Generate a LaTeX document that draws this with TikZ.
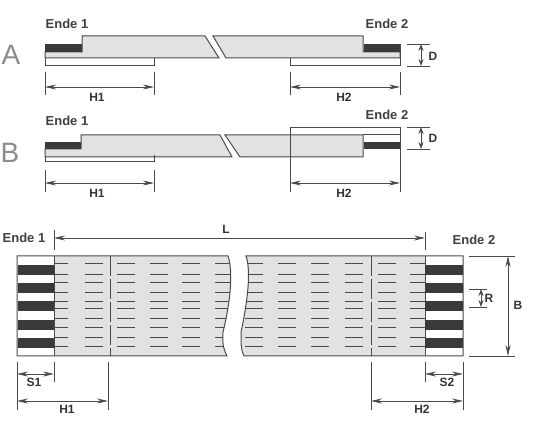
\documentclass[tikz,border=0pt]{standalone}
\usepackage{fontspec}
\setmainfont{Liberation Sans}
\usetikzlibrary{arrows.meta}
\definecolor{lineGrey}{HTML}{4A4A4A}
\definecolor{bodyGrey}{HTML}{E2E2E2}
\definecolor{contactGrey}{HTML}{3A3A3A}
\tikzstyle{outline}=[draw=lineGrey,line width=1pt]
\tikzstyle{body}=[outline,fill=bodyGrey]
\tikzstyle{contact}=[fill=contactGrey]
\tikzstyle{helper}=[draw=lineGrey,line width=0.7pt]
\tikzstyle{dimLine}=[draw=lineGrey,line width=0.8pt,{Stealth[length=11pt,width=5pt]}-{Stealth[length=11pt,width=5pt]}]
\tikzstyle{shortDim}=[draw=lineGrey,line width=0.8pt,{Stealth[length=7pt,width=5pt]}-{Stealth[length=7pt,width=5pt]}]
\tikzstyle{trace}=[draw=lineGrey,line width=1pt]
\tikzstyle{centerLine}=[draw=lineGrey,line width=0.8pt,dash pattern=on 20pt off 3pt]
\tikzstyle{endLabel}=[inner sep=0pt,text=black!75,font=\bfseries\fontsize{13}{15}\selectfont]
\tikzstyle{dimLabel}=[inner sep=0pt,text=black!80,font=\bfseries\fontsize{12}{14}\selectfont]
\tikzstyle{bigLabel}=[inner sep=0pt,text=black!45,font=\fontsize{28}{30}\selectfont]

\begin{document}
\begin{tikzpicture}[x=1pt,y=-1pt]
    \useasboundingbox (0,0) rectangle (533,427);

    % variant A
    \node[bigLabel] (labelA) at (11,55) {A};
    \node[endLabel] (endA1) at (67,24) {Ende 1};
    \node[endLabel] (endA2) at (387,24) {Ende 2};
    \draw[body] (45,52) -- (82,52) -- (82,36) -- (205,36) -- (219,58) -- (45,58) -- cycle;
    \draw[body] (213,36) -- (363,36) -- (363,52) -- (400,52) -- (400,58) -- (226,58) -- cycle;
    \fill[contact] (45,44) rectangle (82,52);
    \fill[contact] (364,44) rectangle (400,52);
    \draw[outline] (45,58) -- (45,66) -- (154,66) -- (154,58);
    \draw[outline] (290,58) -- (290,66) -- (400,66) -- (400,44);

    \coordinate (a1l) at (45,87);
    \coordinate (a1r) at (154,87);
    \coordinate (a2l) at (290,87);
    \coordinate (a2r) at (400,87);
    \draw[helper] (45,72) -- (45,95);
    \draw[helper] (154,72) -- (154,95);
    \draw[helper] (290,72) -- (290,95);
    \draw[helper] (400,72) -- (400,95);
    \draw[dimLine] (a1l) -- (a1r);
    \draw[dimLine] (a2l) -- (a2r);
    \node[dimLabel] (h1A) at (97,97) {H1};
    \node[dimLabel] (h2A) at (344,97) {H2};

    \draw[helper] (407,44) -- (430,44);
    \draw[helper] (407,66) -- (430,66);
    \coordinate (dAtop) at (421,44);
    \coordinate (dAbot) at (421,66);
    \draw[shortDim] (dAtop) -- (dAbot);
    \node[dimLabel] (dA) at (433,56) {D};

    % variant B
    \node[bigLabel] (labelB) at (10,153) {B};
    \node[endLabel] (endB1) at (67,121) {Ende 1};
    \node[endLabel] (endB2) at (387,115) {Ende 2};
    \draw[body] (45,149) -- (81,149) -- (81,135) -- (220,135) -- (232,157) -- (45,157) -- cycle;
    \draw[body] (225,135) -- (363,135) -- (363,157) -- (240,157) -- cycle;
    \draw[outline] (363,135) -- (400,135);
    \fill[contact] (45,142) rectangle (81,149);
    \fill[contact] (364,142) rectangle (400,149);
    \draw[outline] (45,157) -- (45,162) -- (154,162) -- (154,155);
    \draw[helper] (290,192) -- (290,127) -- (400,127) -- (400,192);

    \coordinate (b1l) at (45,183);
    \coordinate (b1r) at (154,183);
    \coordinate (b2l) at (290,183);
    \coordinate (b2r) at (400,183);
    \draw[helper] (45,170) -- (45,192);
    \draw[helper] (154,170) -- (154,192);
    \draw[dimLine] (b1l) -- (b1r);
    \draw[dimLine] (b2l) -- (b2r);
    \node[dimLabel] (h1B) at (97,193) {H1};
    \node[dimLabel] (h2B) at (344,193) {H2};

    \draw[helper] (407,127) -- (430,127);
    \draw[helper] (407,149) -- (430,149);
    \coordinate (dBtop) at (421,127);
    \coordinate (dBbot) at (421,149);
    \draw[shortDim] (dBtop) -- (dBbot);
    \node[dimLabel] (dB) at (433,138) {D};

    % top view
    \node[endLabel] (endC1) at (24,238) {Ende 1};
    \node[endLabel] (endC2) at (474,240) {Ende 2};
    \path[fill=bodyGrey] (54,256) -- (228,256) .. controls (233,270) and (231,300) .. (223,332) .. controls (222,345) and (224,350) .. (227,356) -- (54,356) -- cycle;
    \path[fill=bodyGrey] (246,256) .. controls (251,270) and (248,300) .. (241,332) .. controls (241,345) and (241,350) .. (244,356) -- (425,356) -- (425,256) -- cycle;

    \begin{scope}
        \clip (54,256) -- (228,256) .. controls (233,270) and (231,300) .. (223,332) .. controls (222,345) and (224,350) .. (227,356) -- (54,356) -- cycle;
        \foreach \y in {264,275,283,293,302,309,319,328,338,347}
            \foreach \x in {50,85,117,150,182,215}
                \draw[trace] (\x,\y) -- (\x+18,\y);
    \end{scope}
    \begin{scope}
        \clip (246,256) .. controls (251,270) and (248,300) .. (241,332) .. controls (241,345) and (241,350) .. (244,356) -- (425,356) -- (425,256) -- cycle;
        \foreach \y in {264,275,283,293,302,309,319,328,338,347}
            \foreach \x in {245,278,311,345,378,410}
                \draw[trace] (\x,\y) -- (\x+18,\y);
    \end{scope}

    \draw[outline] (17,256) -- (228,256) .. controls (233,270) and (231,300) .. (223,332) .. controls (222,345) and (224,350) .. (227,356) -- (17,356) -- cycle;
    \draw[outline] (463,256) -- (246,256) .. controls (251,270) and (248,300) .. (241,332) .. controls (241,345) and (241,350) .. (244,356) -- (463,356) -- cycle;
    \draw[outline] (54,256) -- (54,356);
    \draw[outline] (425,256) -- (425,356);
    \foreach \y in {265,283,301,320,338} {
        \fill[contact] (18,\y) rectangle (54,\y+10);
        \fill[contact] (425,\y) rectangle (463,\y+10);
    }
    \draw[centerLine] (110,256) -- (110,356);
    \draw[centerLine] (371,256) -- (371,356);

    % dimensions of the top view
    \coordinate (lLeft) at (54,238);
    \coordinate (lRight) at (425,238);
    \draw[helper] (54,230) -- (54,250);
    \draw[helper] (425,232) -- (425,250);
    \draw[dimLine] (lLeft) -- (lRight);
    \node[dimLabel] (lenL) at (226,229) {L};

    \draw[helper] (469,256) -- (515,256);
    \draw[helper] (469,356) -- (515,356);
    \coordinate (bTop) at (508,256);
    \coordinate (bBot) at (508,356);
    \draw[dimLine] (bTop) -- (bBot);
    \node[dimLabel] (widthB) at (518,305) {B};

    \draw[helper] (469,289) -- (487,289);
    \draw[helper] (469,307) -- (487,307);
    \coordinate (rTop) at (481,289);
    \coordinate (rBot) at (481,307);
    \draw[shortDim] (rTop) -- (rBot);
    \node[dimLabel] (pitchR) at (489,298) {R};

    \draw[helper] (17,362) -- (17,410);
    \draw[helper] (54,362) -- (54,382);
    \draw[helper] (108,362) -- (108,410);
    \draw[helper] (371,362) -- (371,410);
    \draw[helper] (425,362) -- (425,382);
    \draw[helper] (463,362) -- (463,410);

    \coordinate (s1l) at (17,374);
    \coordinate (s1r) at (54,374);
    \coordinate (s2l) at (425,374);
    \coordinate (s2r) at (463,374);
    \draw[dimLine] (s1l) -- (s1r);
    \draw[dimLine] (s2l) -- (s2r);
    \node[dimLabel] (s1) at (34,382) {S1};
    \node[dimLabel] (s2) at (447,382) {S2};

    \coordinate (c1l) at (17,401);
    \coordinate (c1r) at (108,401);
    \coordinate (c2l) at (371,401);
    \coordinate (c2r) at (463,401);
    \draw[dimLine] (c1l) -- (c1r);
    \draw[dimLine] (c2l) -- (c2r);
    \node[dimLabel] (h1C) at (67,409) {H1};
    \node[dimLabel] (h2C) at (422,409) {H2};

\end{tikzpicture}
\end{document}
